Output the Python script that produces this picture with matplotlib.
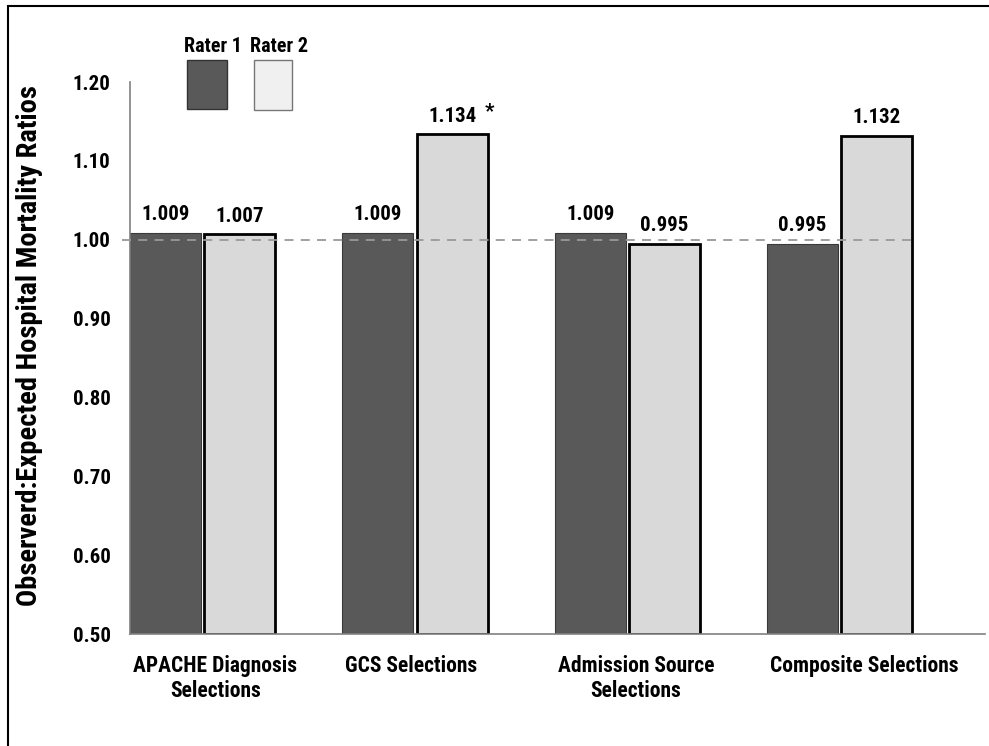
import numpy as np
import matplotlib.pyplot as plt
from matplotlib import font_manager
from matplotlib.patches import Rectangle

# data
categories = ["APACHE Diagnosis\nSelections", "GCS Selections",
              "Admission Source\nSelections", "Composite Selections"]
rater1 = [1.009, 1.009, 1.009, 0.995]
rater2 = [1.007, 1.134, 0.995, 1.132]
rater1_labels = ["1.009", "1.009", "1.009", "0.995"]
rater2_labels = ["1.007", "1.134", "0.995", "1.132"]
yticks = [0.50, 0.60, 0.70, 0.80, 0.90, 1.00, 1.10, 1.20]

# narrow bold sans looks closest to the original
names = {f.name for f in font_manager.fontManager.ttflist}
fams = [n for n in ['Liberation Sans Narrow', 'Roboto Condensed', 'DejaVu Sans Condensed']
        if n in names] + ['Liberation Sans', 'DejaVu Sans']
plt.rcParams['font.family'] = fams
plt.rcParams['font.weight'] = 'bold'

dark = "#595959"
light = "#d9d9d9"

fig = plt.figure(figsize=(9.89, 7.46), dpi=100)
ax = fig.add_axes([0.1314, 0.150, 0.8646, 0.740])

x = np.arange(len(categories))
w = 0.335
b1 = ax.bar(x - 0.175, np.array(rater1) - 0.5, w, bottom=0.5, color=dark,
            edgecolor="#3a3a3a", linewidth=0.8, zorder=2)
b2 = ax.bar(x + 0.175, np.array(rater2) - 0.5, w, bottom=0.5, color=light,
            edgecolor="black", linewidth=2, zorder=2)

ax.bar_label(b1, labels=rater1_labels, padding=6, fontsize=15, fontweight='bold')
ax.bar_label(b2, labels=rater2_labels, padding=6, fontsize=15, fontweight='bold')
# significance mark on GCS rater 2
ax.annotate("*", xy=(x[1] + 0.175, rater2[1]), xytext=(27, 9),
            textcoords="offset points", ha="center", va="bottom",
            fontsize=15, fontweight='bold')

# reference line at 1.00
ax.plot([-0.38, x[-1] + 0.175 + w / 2], [1.0, 1.0], ls=(0, (5, 4)),
        color="#999999", lw=1.3, zorder=3, clip_on=False)

ax.set_ylim(0.5, 1.2)
ax.set_xlim(-0.3425, 3.685)
ax.set_yticks(yticks)
ax.set_yticklabels([f"{v:.2f}" for v in yticks], fontsize=15, fontweight='bold')
# category labels start at the left edge of each group
ax.set_xticks(x - 0.175 - w / 2 + 0.015)
ax.set_xticklabels(categories, fontsize=15.5, fontweight='bold', linespacing=1.2,
                   ha='left', multialignment='center')
ax.tick_params(axis='y', length=0, pad=14)
ax.tick_params(axis='x', length=0, pad=15)
ax.set_ylabel("Observerd:Expected Hospital Mortality Ratios", fontsize=20.5,
              fontweight='bold')
ax.yaxis.set_label_coords(-0.102, 0.522)

for s in ["top", "right"]:
    ax.spines[s].set_visible(False)
for s in ["left", "bottom"]:
    ax.spines[s].set_color("#808080")
    ax.spines[s].set_linewidth(1.2)

# hand-made legend: labels above swatches
fig.patches.append(Rectangle((187 / 989, 1 - 109 / 746), 40 / 989, 49 / 746,
                             transform=fig.transFigure, facecolor=dark,
                             edgecolor="#333333", lw=1))
fig.patches.append(Rectangle((254 / 989, 1 - 110 / 746), 38 / 989, 50 / 746,
                             transform=fig.transFigure, facecolor="#f0f0f0",
                             edgecolor="#777777", lw=1))
fig.text(213 / 989, 1 - 47 / 746, "Rater 1", ha="center", va="center",
         fontsize=14.5, fontweight='bold')
fig.text(279 / 989, 1 - 47 / 746, "Rater 2", ha="center", va="center",
         fontsize=14.5, fontweight='bold')

# outer frame
fig.patches.append(Rectangle((8 / 989, -0.05), 1.05, 1 - 6 / 746 + 0.05,
                             transform=fig.transFigure, fill=False,
                             edgecolor="black", lw=1.5))

fig.savefig("out.png", dpi=100)
